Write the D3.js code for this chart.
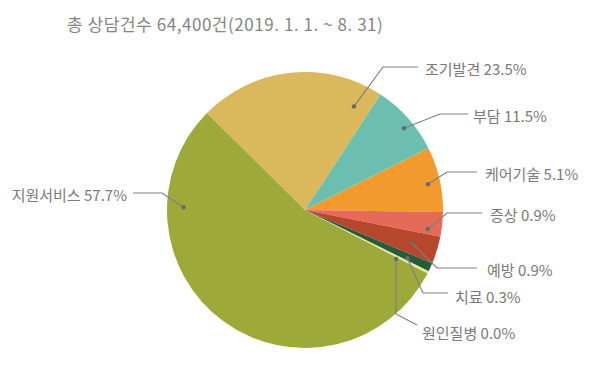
<!DOCTYPE html>
<html>
<head>
<meta charset="utf-8">
<script src="https://cdn.jsdelivr.net/npm/d3@7"></script>
<style>
  body { margin: 0; background: #fff; }
  text { font-family: "Noto Sans CJK KR", "Noto Sans", sans-serif; fill: #7a7a7a; }
</style>
</head>
<body>
<svg id="chart" width="600" height="372"></svg>
<script>
// categories in drawing order (clockwise from the top-left edge)
const categories = ["조기발견", "부담", "케어기술", "증상", "예방", "치료", "원인질병", "지원서비스"];
// printed percentages
const labelPcts = ["23.5%", "11.5%", "5.1%", "0.9%", "0.9%", "0.3%", "0.0%", "57.7%"];
// slice shares as drawn in the picture (%)
const shares = [21.8, 8.4, 7.6, 2.9, 3.2, 1.0, 0.3, 54.8];
const colors = ["#dbb85c", "#6cbfaf", "#f39a2e", "#e56a57", "#b5472c", "#265c3b", "#ece59a", "#9daa3a"];

var svg = d3.select("#chart"),
  cx = 305,
  cy = 210,
  r = 138;

svg
  .append("text")
  .attr("x", 67)
  .attr("y", 31)
  .style("font-size", "17px")
  .style("letter-spacing", "0.55px")
  .style("fill", "#858585")
  .text("총 상담건수 64,400건(2019. 1. 1. ~ 8. 31)");

const start = (-45.3 * Math.PI) / 180;
const pie = d3
  .pie()
  .sort(null)
  .value((d) => d)
  .startAngle(start)
  .endAngle(start + 2 * Math.PI);

const arcs = pie(shares);
const arc = d3.arc().innerRadius(0).outerRadius(r);

var g = svg.append("g").attr("transform", `translate(${cx},${cy})`);

g.selectAll("path")
  .data(arcs)
  .enter()
  .append("path")
  .attr("d", arc)
  .attr("fill", (d, i) => colors[i]);

// leader lines: dot inside slice (t = position along the slice angle, k = share of radius)
const leaders = [
  { t: 0.9, k: 0.83, pts: [[383, 67], [418, 67]], lx: 425, ly: 70, anchor: "start" },
  { t: 0.57, k: 0.93, pts: [[440, 114], [468, 114]], lx: 473, ly: 117, anchor: "start" },
  { t: 0.54, k: 0.91, pts: [[447, 172], [477, 172]], lx: 485, ly: 175, anchor: "start" },
  { t: 0.77, k: 0.9, pts: [[447, 213], [482, 213]], lx: 490, ly: 216, anchor: "start" },
  { t: 0.51, k: 0.81, pts: [[437, 268], [477, 268]], lx: 487, ly: 271, anchor: "start" },
  { t: 0.68, k: 0.82, pts: [[423, 293], [448, 293]], lx: 455, ly: 298, anchor: "start" },
  { t: 1.8, k: 0.75, pts: [[396, 314], [417, 325]], lx: 422, ly: 334, anchor: "start" },
  { t: 0.78, k: 0.88, pts: [[162, 193], [133, 193]], lx: 127, ly: 196, anchor: "end" },
];

var lab = svg.append("g").attr("class", "labels");

arcs.forEach((d, i) => {
  const L = leaders[i];
  const a = d.startAngle + (d.endAngle - d.startAngle) * L.t;
  const dx = cx + Math.sin(a) * r * L.k;
  const dy = cy - Math.cos(a) * r * L.k;
  const line = [[dx, dy]].concat(L.pts);
  lab
    .append("path")
    .attr("d", d3.line()(line))
    .attr("fill", "none")
    .attr("stroke", "#808080")
    .attr("stroke-width", 1.2);
  lab
    .append("circle")
    .attr("cx", dx)
    .attr("cy", dy)
    .attr("r", 2.2)
    .attr("fill", "#6a6a6a");
  lab
    .append("text")
    .attr("x", L.lx)
    .attr("y", L.ly)
    .attr("dy", "0.35em")
    .attr("text-anchor", L.anchor)
    .style("font-size", "15px")
    .text(categories[i] + " " + labelPcts[i]);
});
</script>
</body>
</html>
